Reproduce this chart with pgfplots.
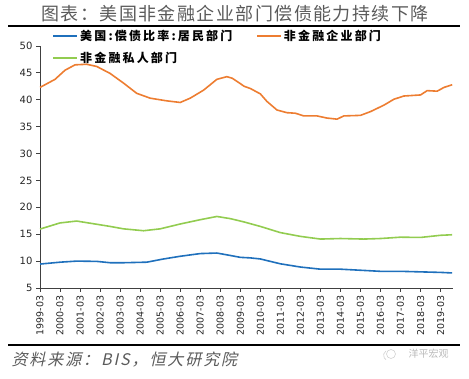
\documentclass[border=0pt]{standalone}
\usepackage{fontspec}
\setmainfont{DejaVu Sans}
\newfontfamily\cjk{Noto Sans CJK SC}
\newfontfamily\cjkit[FakeSlant=0.22]{Noto Sans CJK SC}
\usepackage{pgfplots}
\pgfplotsset{compat=1.18}
\pgfplotsset{every axis plot/.append style={legend image code/.code={\draw[##1] (0pt,0pt) -- (24pt,0pt);}}}
\definecolor{cblue}{RGB}{31,112,188}
\definecolor{corange}{RGB}{237,125,49}
\definecolor{cgreen}{RGB}{146,204,80}
\definecolor{ctitle}{RGB}{90,90,90}
\begin{document}
\begin{tikzpicture}
\path (0pt,0pt) rectangle (469pt,378pt);
\node[anchor=center,text=ctitle,font=\fontsize{18}{18}\cjk\addfontfeature{LetterSpace=8}] at (235pt,364pt) {图表：美国非金融企业部门偿债能力持续下降};
\draw[line width=1.8pt] (8pt,352pt) -- (460pt,352pt);
\draw[line width=1.8pt] (8pt,33pt) -- (460pt,33pt);
\node[anchor=west,text=ctitle,font=\fontsize{16}{16}\cjkit\addfontfeature{LetterSpace=12}] at (8pt,18pt) {资料来源：BIS，恒大研究院};
\draw[gray!35, line width=0.6pt] (391pt,24pt) circle (4.5pt);
\draw[gray!35, line width=0.6pt] (386pt,27pt) arc (120:240:5pt);
\node[anchor=west,text=gray!55,font=\fontsize{10}{10}\cjk] at (405pt,24pt) {洋平宏观};
\begin{axis}[
  at={(40pt,90pt)}, anchor=south west,
  scale only axis, width=413pt, height=242pt,
  xmin=1999, xmax=2019.62, ymin=5, ymax=50,
  axis x line*=bottom, axis y line*=left,
  axis line style={black!75, line width=0.8pt},
  xtick={1999,2000,...,2019},
  xticklabels={1999-03,2000-03,2001-03,2002-03,2003-03,2004-03,2005-03,2006-03,2007-03,2008-03,2009-03,2010-03,2011-03,2012-03,2013-03,2014-03,2015-03,2016-03,2017-03,2018-03,2019-03},
  x tick label style={rotate=90, anchor=east, font=\fontsize{9.5}{10}\selectfont, text=black!85},
  ytick={5,10,...,50},
  y tick label style={font=\fontsize{10}{10}\selectfont, text=black!85},
  /pgf/number format/assume math mode=true,
  tick align=outside, tick style={black!75, line width=0.8pt},
  major tick length=4pt,
  xtick pos=bottom, ytick pos=left,
  legend columns=2,
  legend cell align=left,
  legend style={draw=none, fill=none, at={(0.03,1.075)}, anchor=north west,
    font=\fontsize{12}{12}\cjk\bfseries\addfontfeature{LetterSpace=18},
    /tikz/every even column/.append style={column sep=22pt},
    row sep=6pt, inner sep=0pt},
  every axis plot/.append style={line width=1.6pt},
  clip=false,
]
\addplot[cblue] coordinates {
(1999.0,9.45)(2000.0,9.8)(2000.83,10.0)(2001.83,9.95)(2002.5,9.7)(2003.17,9.7)(2004.33,9.8)(2005.17,10.4)(2006.0,10.9)(2007.0,11.4)(2007.83,11.5)(2008.5,11.05)(2009.0,10.7)(2009.5,10.6)(2010.0,10.4)(2011.0,9.5)(2012.0,8.9)(2013.0,8.5)(2014.0,8.5)(2015.0,8.3)(2016.0,8.1)(2017.0,8.1)(2018.0,8.0)(2019.0,7.9)(2019.58,7.8)};
\addlegendentry{美国:偿债比率:居民部门}
\addplot[corange] coordinates {
(1999.0,42.3)(1999.25,42.8)(1999.75,43.8)(2000.25,45.5)(2000.75,46.5)(2001.33,46.6)(2001.83,46.2)(2002.5,44.9)(2003.17,43.1)(2003.83,41.2)(2004.5,40.3)(2005.33,39.8)(2006.0,39.5)(2006.5,40.3)(2007.17,41.8)(2007.83,43.8)(2008.33,44.3)(2008.6,44.0)(2009.2,42.5)(2009.5,42.1)(2010.0,41.1)(2010.33,39.7)(2010.83,38.1)(2011.33,37.6)(2011.75,37.5)(2012.17,37.0)(2012.83,37.0)(2013.33,36.6)(2013.83,36.4)(2014.17,37.0)(2015.0,37.1)(2015.5,37.8)(2016.17,39.0)(2016.67,40.1)(2017.17,40.7)(2018.0,40.9)(2018.33,41.7)(2018.83,41.6)(2019.17,42.3)(2019.58,42.8)};
\addlegendentry{非金融企业部门}
\addplot[cgreen] coordinates {
(1999.0,15.96)(2000.0,17.1)(2000.83,17.45)(2001.67,16.95)(2002.5,16.45)(2003.17,16.0)(2004.17,15.65)(2005.0,16.0)(2006.0,16.9)(2007.0,17.7)(2007.83,18.3)(2008.5,17.9)(2009.17,17.3)(2010.0,16.45)(2011.0,15.3)(2012.0,14.6)(2013.0,14.1)(2014.0,14.2)(2015.17,14.1)(2016.0,14.2)(2017.0,14.45)(2018.0,14.4)(2019.0,14.8)(2019.58,14.9)};
\addlegendentry{非金融私人部门}
\end{axis}
\end{tikzpicture}
\end{document}
